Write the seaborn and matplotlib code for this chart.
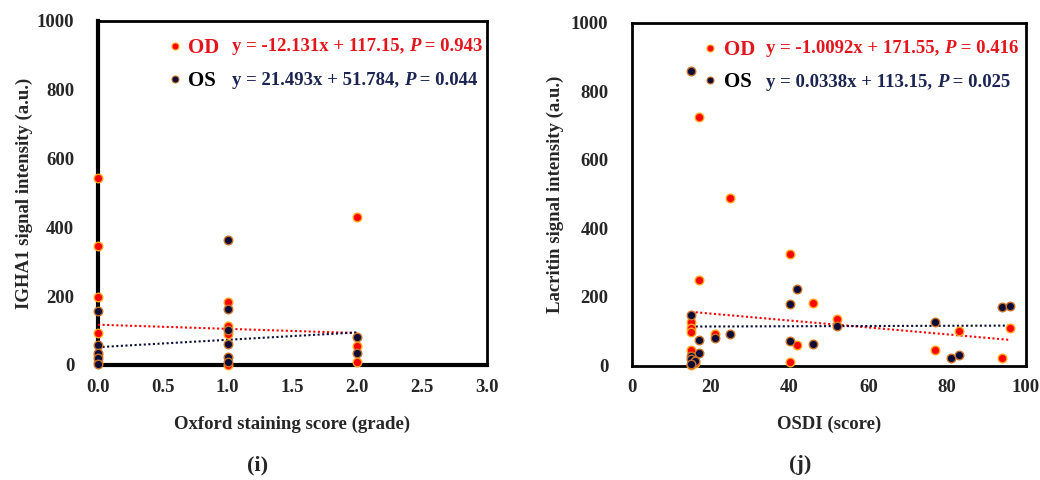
import numpy as np
import pandas as pd
import matplotlib
matplotlib.use("Agg")
import matplotlib.pyplot as plt
import seaborn as sns
from matplotlib.lines import Line2D

# ---------------- data ----------------
# Panel (i): Oxford staining score vs IGHA1
oxf_od_x = [0, 0, 0, 0, 0, 0, 1, 1, 1, 1, 2, 2, 2]
oxf_od_y = [545, 346, 198, 94, 30, 8, 183, 113, 89, 0, 429, 55, 8]
oxf_os_x = [0, 0, 0, 0, 0, 1, 1, 1, 1, 1, 1, 2, 2]
oxf_os_y = [157, 58, 36, 21, 3, 362, 164, 103, 60, 24, 10, 82, 34]
oxf_fit_od = (-12.131, 117.15)
oxf_fit_os = (21.493, 51.784)
oxf_eq_od = ("y = -12.131x + 117.15, ", "0.943")
oxf_eq_os = ("y = 21.493x + 51.784, ", "0.044")

# Panel (j): OSDI vs Lacritin
osdi_od_x = [17, 25, 40, 17, 46, 15, 15, 15, 52, 96, 83, 77, 94, 21, 42, 40, 15, 16, 15]
osdi_od_y = [725, 489, 325, 248, 182, 128, 109, 98, 136, 108, 102, 46, 23, 93, 59, 11, 46, 7, 2]
osdi_os_x = [15, 42, 40, 15, 52, 77, 94, 96, 81, 83, 21, 25, 17, 17, 40, 46, 15, 15, 16, 15]
osdi_os_y = [860, 223, 178, 147, 116, 128, 172, 174, 21, 30, 80, 92, 74, 36, 71, 62, 27, 18, 12, 4]
osdi_fit_od = (-1.0092, 171.55)
osdi_fit_os = (0.0338, 113.15)
osdi_eq_od = ("y = -1.0092x + 171.55, ", "0.416")
osdi_eq_os = ("y = 0.0338x + 113.15, ", "0.025")

groups = ["OD", "OS"]
x_ticks_i = [0.0, 0.5, 1.0, 1.5, 2.0, 2.5, 3.0]
x_ticks_j = [0, 20, 40, 60, 80, 100]
y_ticks = [0, 200, 400, 600, 800, 1000]

# ---------------- style ----------------
sns.set_theme(style="white")
plt.rcParams['font.family'] = ['Liberation Serif', 'DejaVu Serif']
plt.rcParams['font.weight'] = 'bold'

OD_FILL, OD_EDGE = "#ff0000", "#ffa31a"
OS_FILL, OS_EDGE = "#0b0b38", "#c8722a"
OD_TXT, OS_TXT = "#e3161d", "#1c2452"
FS = 13.5

fig = plt.figure(figsize=(10.4, 4.8), dpi=100)
ax1 = fig.add_axes([0.0942, 0.2396, 0.374, 0.7167])
ax2 = fig.add_axes([0.6077, 0.2385, 0.3788, 0.7145])


def panel(ax, odx, ody, osx, osy, fit_od, fit_os, eq_od, eq_os, xlim, xticks,
          xfmt, xlabel, ylabel, thick, leg_x, eq_x, ylabpad):
    df = pd.DataFrame({
        "x": list(odx) + list(osx),
        "y": list(ody) + list(osy),
        "g": ["OD"] * len(odx) + ["OS"] * len(osx),
    })
    for g, fc, ec in [("OD", OD_FILL, OD_EDGE), ("OS", OS_FILL, OS_EDGE)]:
        sub = df[df.g == g]
        sns.scatterplot(data=sub, x="x", y="y", ax=ax, color=fc, edgecolor=ec,
                        linewidth=1.0, s=38, clip_on=False, zorder=5, legend=False)
    # trendlines from the fitted equations
    for xs, (m, b), c in [(odx, fit_od, OD_FILL), (osx, fit_os, OS_FILL)]:
        xx = np.array([min(xs), max(xs)], dtype=float)
        ax.plot(xx, m * xx + b, ls=(0, (1.0, 1.2)), color=c, lw=1.5, zorder=4)
    ax.set_xlim(*xlim)
    ax.set_ylim(0, 1000)
    ax.set_xticks(xticks)
    ax.set_xticklabels([xfmt(v) for v in xticks])
    ax.set_yticks(y_ticks)
    ax.tick_params(axis="y", length=0, pad=17, labelsize=FS)
    ax.tick_params(axis="x", length=0, pad=10, labelsize=FS)
    for lab in ax.get_xticklabels() + ax.get_yticklabels():
        lab.set_fontweight("bold")
    ax.set_xlabel(xlabel, fontsize=FS, fontweight="bold", labelpad=14)
    ax.set_ylabel(ylabel, fontsize=FS, fontweight="bold", labelpad=ylabpad)
    for side, sp in ax.spines.items():
        sp.set_color("black")
        sp.set_visible(True)
        sp.set_linewidth(2.0)
    if thick:
        ax.spines["left"].set_linewidth(3.0)
        ax.spines["bottom"].set_linewidth(3.0)
    # legend
    handles = [Line2D([], [], ls="", marker="o", ms=5, mfc=OD_FILL, mec=OD_EDGE, mew=0.8),
               Line2D([], [], ls="", marker="o", ms=5, mfc=OS_FILL, mec=OS_EDGE, mew=0.8)]
    leg = ax.legend(handles, groups, loc="center left", bbox_to_anchor=(leg_x, 0.873),
                    frameon=False, handletextpad=0.25, handlelength=0.8,
                    labelspacing=0.6, borderpad=0, borderaxespad=0,
                    prop={"family": "Liberation Serif", "weight": "bold", "size": FS + 1.5})
    leg.get_texts()[0].set_color(OD_TXT)
    leg.get_texts()[1].set_color("black")
    # equations
    for (txt, p), yy, col in [(eq_od, 0.925, OD_TXT), (eq_os, 0.826, OS_TXT)]:
        t1 = ax.text(eq_x, yy, txt, transform=ax.transAxes, color=col, fontsize=FS,
                     fontweight="bold", va="center", ha="left")
        t2 = ax.annotate("P", xy=(1, 0), xycoords=t1, va="bottom", ha="left",
                         color=col, fontsize=FS, fontweight="bold", fontstyle="italic")
        ax.annotate(" = " + p, xy=(1, 0), xycoords=t2, va="bottom", ha="left",
                    color=col, fontsize=FS, fontweight="bold")


panel(ax1, oxf_od_x, oxf_od_y, oxf_os_x, oxf_os_y, oxf_fit_od, oxf_fit_os,
      oxf_eq_od, oxf_eq_os, (0, 3), x_ticks_i, lambda v: f"{v:.1f}",
      "Oxford staining score (grade)", "IGHA1 signal intensity (a.u.)", True,
      0.176, 0.344, 3)
panel(ax2, osdi_od_x, osdi_od_y, osdi_os_x, osdi_os_y, osdi_fit_od, osdi_fit_os,
      osdi_eq_od, osdi_eq_os, (0, 100), x_ticks_j, lambda v: f"{v:d}",
      "OSDI (score)", "Lacritin signal intensity (a.u.)", False,
      0.178, 0.340, 5)

fig.text(258 / 1040, 1 - 465 / 480, "(i)", ha="center", va="center", fontsize=FS + 2.5,
         fontweight="bold")
fig.text(800 / 1040, 1 - 465 / 480, "(j)", ha="center", va="center", fontsize=FS + 2.5,
         fontweight="bold")

fig.savefig("out.png", dpi=100, facecolor="white")
